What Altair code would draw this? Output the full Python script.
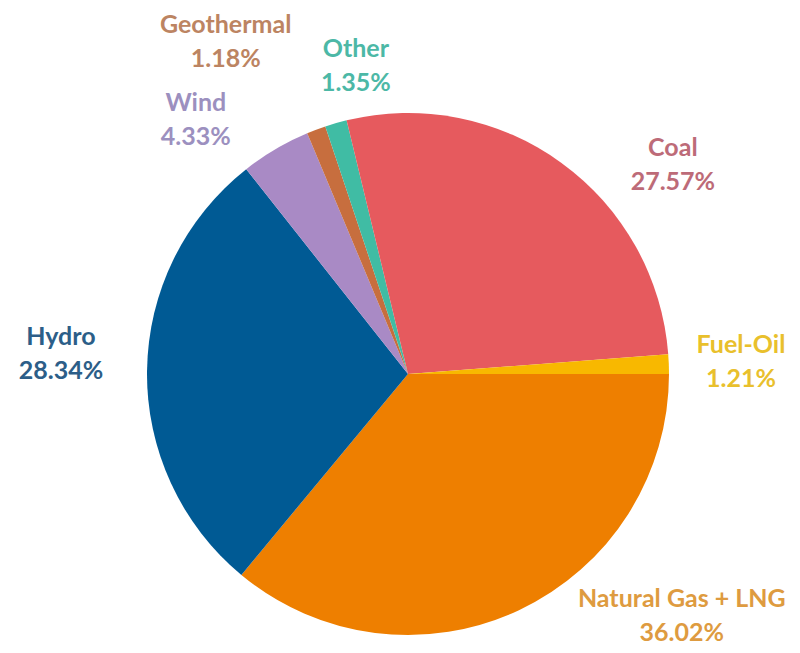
import math
import altair as alt
import pandas as pd

# Data
sources = ["Natural Gas + LNG", "Hydro", "Wind", "Geothermal", "Other", "Coal", "Fuel-Oil"]
shares = [36.02, 28.34, 4.33, 1.18, 1.35, 27.57, 1.21]
pct_labels = ["36.02%", "28.34%", "4.33%", "1.18%", "1.35%", "27.57%", "1.21%"]

# Styles
slice_colors = ["#EE7F00", "#005A94", "#A98AC5", "#C76E3E", "#40BCA4", "#E65A5E", "#F8B800"]
text_colors = ["#DE9B40", "#2C5E88", "#9C90BF", "#BC8462", "#4CB8A6", "#BD6B78", "#E9C02C"]
# label placement (polar, around pie centre): angle in degrees clockwise from north, radius px
label_angle_deg = [131.5, 273.3, 320.1, 331.2, 350.4, 51.7, 87.9]
label_radius = [365.6, 347.6, 330.8, 378.5, 312.4, 337.5, 333.2]

df = pd.DataFrame({
    "source": sources,
    "share": shares,
    "order": list(range(len(sources))),
    "label": [f"{s}\n{p}" for s, p in zip(sources, pct_labels)],
    "la": [math.radians(a) for a in label_angle_deg],
    "lr": label_radius,
})

CX, CY = 400, 366
R = 261
LH = 34

pie = alt.Chart(df).mark_arc(outerRadius=R, x=CX, y=CY).encode(
    theta=alt.Theta("share:Q", stack=True,
                    scale=alt.Scale(range=[math.pi / 2, math.pi / 2 + 2 * math.pi])),
    order=alt.Order("order:Q"),
    color=alt.Color("source:N", scale=alt.Scale(domain=sources, range=slice_colors), legend=None),
)

labels = alt.Chart(df).mark_text(
    x=CX, y=CY, dy=-LH / 2, font="Lato", fontWeight="bold", fontSize=25,
    lineBreak="\n", lineHeight=LH, align="center", baseline="middle",
).encode(
    theta=alt.Theta("la:Q", scale=None),
    radius=alt.Radius("lr:Q", scale=None),
    text="label:N",
    color=alt.Color("source:N", scale=alt.Scale(domain=sources, range=text_colors), legend=None),
)

chart = alt.layer(pie, labels).resolve_scale(
    theta="independent", color="independent"
).properties(
    width=784, height=645, autosize=alt.AutoSizeParams(type="none"), padding=0
).configure_view(stroke=None)

chart.save("out.html", embed_options={"renderer": "svg", "actions": False})
